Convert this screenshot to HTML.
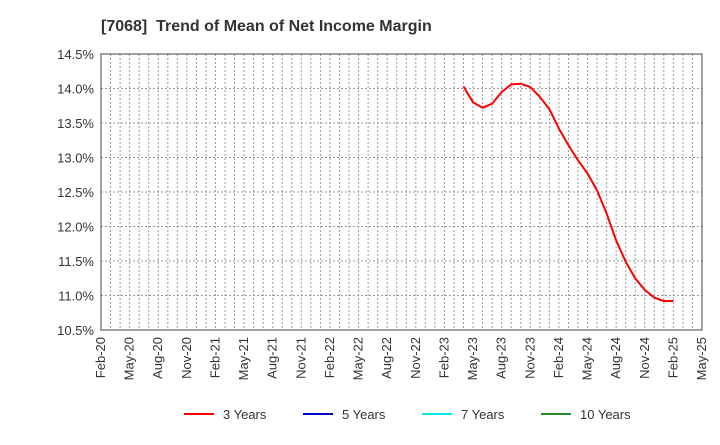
<!DOCTYPE html>
<html><head><meta charset="utf-8"><style>
body{margin:0;background:#fff;font-family:"Liberation Sans",Arial,sans-serif}
svg text{font-family:"Liberation Sans",Arial,sans-serif}
</style></head><body>
<svg id="chart" width="720" height="440" xmlns="http://www.w3.org/2000/svg">
<text x="101" y="31" font-size="16" font-weight="bold" fill="#333" xml:space="preserve" style="white-space:pre">[7068]  Trend of Mean of Net Income Margin</text>
<g id="grid"></g><g id="axes"></g><g id="series"></g>
<g id="legend"></g>
</svg>
<script>
const yTicks=[10.5,11.0,11.5,12.0,12.5,13.0,13.5,14.0,14.5];
const xTickLabels=["Feb-20","May-20","Aug-20","Nov-20","Feb-21","May-21","Aug-21","Nov-21","Feb-22","May-22","Aug-22","Nov-22","Feb-23","May-23","Aug-23","Nov-23","Feb-24","May-24","Aug-24","Nov-24","Feb-25","May-25"];
const startMonth=38; // Apr-23 (months since Feb-20)
const series3=[14.03,13.80,13.72,13.78,13.95,14.06,14.07,14.02,13.88,13.70,13.42,13.18,12.96,12.77,12.52,12.19,11.80,11.49,11.25,11.08,10.97,10.92,10.92];
const NS="http://www.w3.org/2000/svg";
const L=101,R=702,T=54,B=330,nMonths=63;
const x=m=>L+(R-L)*m/nMonths;
const y=v=>B-(B-T)*(v-10.5)/4;
function mk(tag,attrs,parent){const e=document.createElementNS(NS,tag);for(const k in attrs)e.setAttribute(k,attrs[k]);parent.appendChild(e);return e;}
const grid=document.getElementById('grid'),axes=document.getElementById('axes'),ser=document.getElementById('series'),leg=document.getElementById('legend');
for(let m=1;m<nMonths;m++){const l=mk('line',{x1:x(m),x2:x(m),y1:T,y2:B,stroke:'#999','stroke-width':1,'stroke-dasharray':'2,2'},grid);

}
yTicks.forEach(v=>{if(v>10.5&&v<14.5){const l=mk('line',{x1:L,x2:R,y1:y(v),y2:y(v),stroke:'#999','stroke-width':1,'stroke-dasharray':'2,2'},grid);

}
const t=mk('text',{x:L-7,y:y(v)+5,'text-anchor':'end','font-size':13,fill:'#333'},axes);t.textContent=v.toFixed(1)+'%';

});
xTickLabels.forEach((s,i)=>{const xx=x(i*3);const t=mk('text',{x:0,y:0,'text-anchor':'end','font-size':13,fill:'#333',transform:`translate(${xx+4},${B+7}) rotate(-90)`},axes);t.textContent=s;

});
const fr=mk('rect',{x:L,y:T,width:R-L,height:B-T,fill:'none',stroke:'#444','stroke-width':1},axes);


const pts=series3.map((v,i)=>x(startMonth+i).toFixed(1)+','+y(v).toFixed(1)).join(' ');
const pl=mk('polyline',{points:pts,fill:'none',stroke:'#ff0000','stroke-width':2,'stroke-linejoin':'round'},ser);


const legendItems=[["3 Years","#ff0000",184],["5 Years","#0000cc",303],["7 Years","#00e5ee",422],["10 Years","#228b22",541]];
legendItems.forEach(([n,c,lx])=>{const g=mk('g',{},leg);


mk('line',{x1:lx,x2:lx+30,y1:414,y2:414,stroke:c,'stroke-width':2},g);
const t=mk('text',{x:lx+39,y:419,'font-size':13,fill:'#333'},g);t.textContent=n;});
</script>
</body></html>
